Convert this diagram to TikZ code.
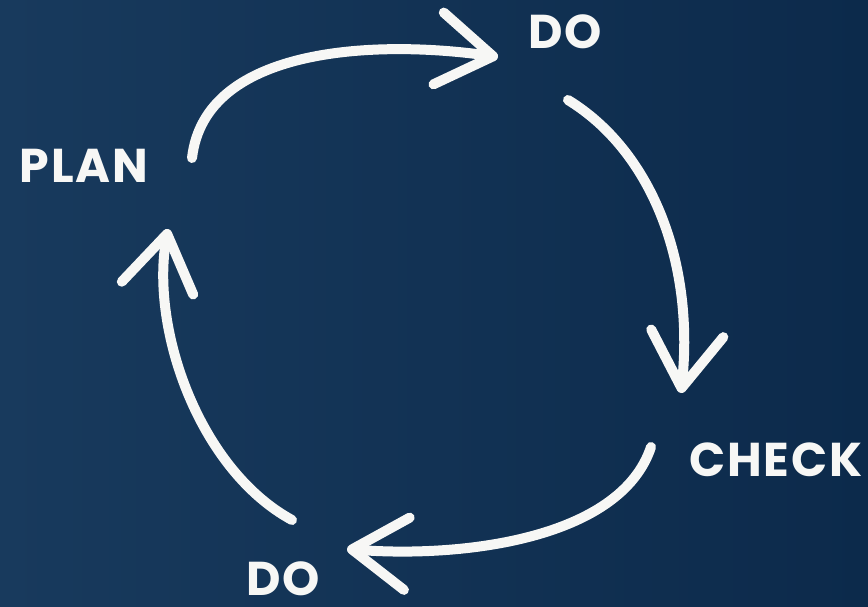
\documentclass[tikz,border=0pt]{standalone}
\usepackage{fontspec}
\setmainfont{Poppins}[LetterSpace=4]
\usetikzlibrary{arrows.meta}

\definecolor{navyleft}{HTML}{183A5D}
\definecolor{navyright}{HTML}{0C2A4B}
\definecolor{chalk}{HTML}{F7F7F5}

\begin{document}
\begin{tikzpicture}[
x=0.02cm,
y=-0.02cm,
stage/.style={
    text=chalk,
    inner sep=0pt,
    font=\bfseries\fontsize{27}{27}\selectfont
},
loop arrow/.style={
    draw=chalk,
    line width=0.2cm,
    line cap=round,
    -{Straight Barb[length=1.1cm,width=1.45cm,round]}
}
]

\shade[left color=navyleft,right color=navyright] (0,0) rectangle (868,606);
\useasboundingbox (0,0) rectangle (868,606);

\node[stage] (doTop) at (565,32) {DO};
\node[stage] (plan) at (84,166) {PLAN};
\node[stage] (check) at (776,460) {CHECK};
\node[stage] (doBottom) at (283,579) {DO};

\coordinate (planOut) at (192,158);
\coordinate (doTopIn) at (498,57);
\coordinate (doTopOut) at (568,100);
\coordinate (checkIn) at (681,393);
\coordinate (checkOut) at (651,447);
\coordinate (doBottomIn) at (347,549);
\coordinate (doBottomOut) at (292,520);
\coordinate (planIn) at (168,229);

\draw[loop arrow] (planOut) .. controls (205,45) and (380,40) .. (doTopIn);
\draw[loop arrow] (doTopOut) .. controls (650,150) and (695,260) .. (checkIn);
\draw[loop arrow] (checkOut) .. controls (620,540) and (460,558) .. (doBottomIn);
\draw[loop arrow] (doBottomOut) .. controls (200,470) and (150,330) .. (planIn);

\end{tikzpicture}
\end{document}
